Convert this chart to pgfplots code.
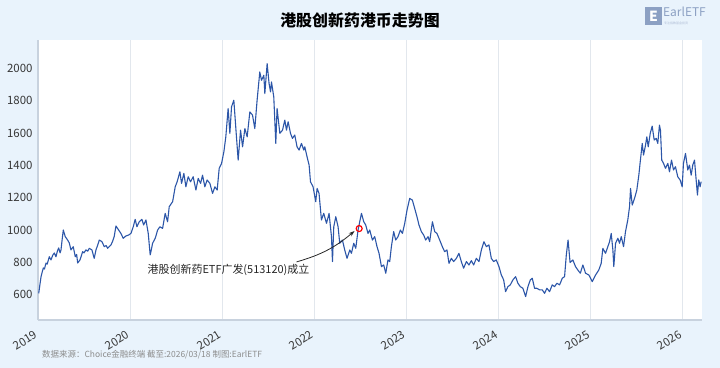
\documentclass[border=0pt]{standalone}
\usepackage{fontspec}
\setmainfont{Noto Sans CJK SC}
\usepackage{pgfplots}
\pgfplotsset{compat=1.18}
\usetikzlibrary{arrows.meta}
\definecolor{bgblue}{RGB}{233,243,252}
\definecolor{lineblue}{RGB}{44,86,168}
\definecolor{gridc}{RGB}{226,231,237}
\definecolor{axc}{RGB}{200,210,222}
\definecolor{tickc}{RGB}{55,55,55}
\definecolor{logoc}{RGB}{140,160,195}
\begin{document}
\begin{tikzpicture}
\useasboundingbox (0bp,0bp) rectangle (720bp,368bp);
\fill[bgblue] (0bp,0bp) rectangle (720bp,368bp);
\node[font=\fontsize{16}{18}\selectfont\bfseries] at (360bp,348bp) {港股创新药港币走势图};
\fill[logoc] (645bp,343bp) rectangle (662bp,361bp);
\node[white,font=\fontsize{14}{14}\selectfont\bfseries] at (653.5bp,352bp) {E};
\node[anchor=base west,text=logoc,font=\fontsize{12}{12}\selectfont,inner sep=0pt] at (663bp,351bp) {EarlETF};
\node[anchor=west,text=logoc!70,font=\fontsize{3}{3}\selectfont,inner sep=0pt] at (664bp,344.5bp) {专注指数基金投资};
\node[anchor=west,text=gray!90,font=\fontsize{8.5}{9}\selectfont,inner sep=0pt] at (42bp,13bp) {数据来源：Choice金融终端 截至:2026/03/18 制图:EarlETF};
\begin{axis}[
  at={(38bp,48bp)}, anchor=south west,
  scale only axis, width=663.5bp, height=280bp,
  xmin=2019, xmax=2026.21, ymin=445, ymax=2175,
  axis x line*=bottom, axis y line*=left,
  axis line style={axc, line width=1.2pt, -},
  axis background/.style={fill=white},
  xtick={2019,2020,2021,2022,2023,2024,2025,2026},
  xticklabels={2019,2020,2021,2022,2023,2024,2025,2026},
  ytick={600,800,1000,1200,1400,1600,1800,2000},
  major tick length=0pt,
  xmajorgrids, grid style={gridc, line width=0.8pt},
  scaled ticks=false,
  /pgf/number format/1000 sep={},
  /pgf/number format/assume math mode=true,
  tick label style={tickc, font=\fontsize{11.5}{12}\selectfont},
  xticklabel style={xshift=-3bp, yshift=-5bp, rotate=32, anchor=north east},
  yticklabel style={xshift=-2bp},
  clip=false,
]
\addplot[lineblue, line width=1.1pt, line join=round] table {
x y
2019.008 610
2019.020 660
2019.033 713
2019.045 740
2019.058 767
2019.070 760
2019.087 797
2019.100 790
2019.123 836
2019.141 816
2019.160 845
2019.177 859
2019.195 836
2019.210 870
2019.225 890
2019.240 860
2019.250 878
2019.262 940
2019.275 1001
2019.296 960
2019.322 939
2019.340 921
2019.358 878
2019.383 898
2019.405 836
2019.420 850
2019.431 797
2019.456 816
2019.470 840
2019.485 867
2019.500 860
2019.521 878
2019.540 870
2019.557 888
2019.586 878
2019.611 826
2019.630 878
2019.650 910
2019.666 939
2019.695 929
2019.720 898
2019.740 905
2019.757 888
2019.793 909
2019.810 930
2019.828 960
2019.847 1026
2019.876 1001
2019.901 980
2019.926 950
2019.955 964
2019.985 970
2020.010 980
2020.035 1021
2020.056 1067
2020.075 1021
2020.100 1052
2020.129 1067
2020.148 1032
2020.173 1063
2020.198 980
2020.219 847
2020.232 880
2020.245 919
2020.274 950
2020.300 1001
2020.325 1021
2020.354 1011
2020.382 1104
2020.408 1052
2020.426 1145
2020.463 1176
2020.491 1268
2020.512 1299
2020.542 1361
2020.560 1289
2020.585 1351
2020.607 1268
2020.632 1330
2020.658 1299
2020.686 1330
2020.716 1248
2020.741 1320
2020.767 1289
2020.788 1340
2020.813 1268
2020.838 1310
2020.868 1289
2020.897 1227
2020.922 1268
2020.947 1248
2020.969 1382
2020.995 1413
2021.020 1485
2021.041 1577
2021.066 1752
2021.085 1598
2021.103 1762
2021.128 1803
2021.150 1628
2021.175 1433
2021.201 1618
2021.223 1515
2021.248 1628
2021.273 1577
2021.302 1731
2021.331 1711
2021.356 1628
2021.381 1803
2021.410 1977
2021.429 1926
2021.454 1957
2021.465 1844
2021.490 2029
2021.511 1906
2021.527 1854
2021.537 1916
2021.562 1824
2021.584 1536
2021.598 1752
2021.628 1598
2021.657 1618
2021.682 1680
2021.700 1618
2021.718 1670
2021.744 1598
2021.765 1567
2021.790 1588
2021.815 1515
2021.837 1495
2021.863 1536
2021.888 1495
2021.899 1515
2021.924 1453
2021.946 1402
2021.961 1299
2021.989 1268
2022.018 1176
2022.033 1258
2022.054 1227
2022.080 1063
2022.105 1104
2022.135 1042
2022.163 1104
2022.189 960
2022.200 806
2022.214 1021
2022.236 1083
2022.261 1021
2022.279 919
2022.308 939
2022.333 878
2022.358 826
2022.388 878
2022.406 857
2022.431 919
2022.453 888
2022.478 1001
2022.496 1052
2022.515 1104
2022.540 1052
2022.561 1032
2022.586 980
2022.605 1001
2022.634 939
2022.659 960
2022.684 898
2022.706 857
2022.732 775
2022.757 785
2022.779 734
2022.803 816
2022.822 806
2022.840 898
2022.865 991
2022.887 939
2022.912 960
2022.938 1001
2022.960 980
2022.985 1042
2023.010 1124
2023.039 1196
2023.068 1186
2023.093 1135
2023.118 1083
2023.140 1032
2023.166 991
2023.191 970
2023.213 939
2023.238 960
2023.256 929
2023.286 1052
2023.311 991
2023.335 980
2023.365 939
2023.394 898
2023.419 867
2023.444 878
2023.466 795
2023.492 826
2023.517 806
2023.546 826
2023.574 857
2023.600 806
2023.625 765
2023.655 806
2023.683 785
2023.709 812
2023.734 785
2023.763 826
2023.792 806
2023.818 878
2023.846 929
2023.872 898
2023.900 909
2023.926 826
2023.951 806
2023.980 816
2024.009 775
2024.035 723
2024.060 693
2024.081 620
2024.106 651
2024.132 662
2024.161 693
2024.190 713
2024.215 672
2024.241 651
2024.269 641
2024.299 590
2024.324 651
2024.350 693
2024.371 703
2024.396 641
2024.421 641
2024.451 631
2024.480 631
2024.505 610
2024.530 641
2024.559 620
2024.588 662
2024.613 651
2024.639 672
2024.668 662
2024.697 703
2024.722 713
2024.741 847
2024.760 939
2024.782 800
2024.812 816
2024.841 775
2024.866 754
2024.893 734
2024.921 785
2024.950 734
2024.986 723
2025.023 682
2025.059 723
2025.094 754
2025.120 795
2025.138 888
2025.167 857
2025.192 898
2025.211 929
2025.229 980
2025.247 878
2025.257 775
2025.276 919
2025.301 950
2025.319 919
2025.338 960
2025.363 898
2025.384 991
2025.409 1063
2025.428 1145
2025.439 1258
2025.457 1155
2025.482 1196
2025.507 1248
2025.529 1340
2025.544 1422
2025.566 1536
2025.580 1464
2025.602 1526
2025.616 1577
2025.631 1515
2025.653 1598
2025.674 1643
2025.696 1557
2025.718 1567
2025.735 1536
2025.753 1649
2025.764 1618
2025.778 1433
2025.797 1413
2025.819 1382
2025.844 1413
2025.862 1361
2025.884 1433
2025.906 1372
2025.927 1392
2025.952 1330
2025.978 1310
2026.000 1268
2026.014 1413
2026.036 1474
2026.061 1372
2026.079 1402
2026.098 1340
2026.115 1402
2026.134 1433
2026.152 1310
2026.166 1217
2026.180 1310
2026.195 1268
2026.206 1300
};
\addplot[only marks, mark=o, mark size=3bp, mark options={draw=red, fill=white, line width=1.2pt}] coordinates {(2022.49,1010)};
\node[anchor=west, inner sep=0pt, text=black!85, font=\fontsize{11}{12}\selectfont] at (axis cs:2020.19,754) {港股创新药ETF广发(513120)成立};
\draw[black!85, line width=0.8pt, -{Stealth[length=6bp,width=4bp]}] (axis cs:2021.81,804) to[bend right=12] (axis cs:2022.44,995);
\end{axis}
\end{tikzpicture}
\end{document}
